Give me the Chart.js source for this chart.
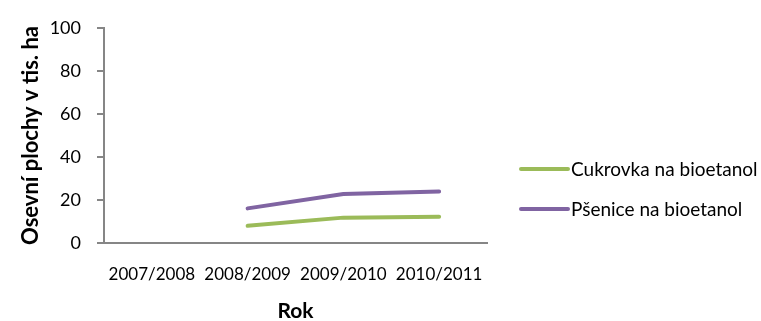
<!DOCTYPE html>
<html>
<head>
<meta charset="utf-8">
<script src="https://cdn.jsdelivr.net/npm/chart.js@4/dist/chart.umd.min.js"></script>
<style>
  html, body { margin: 0; padding: 0; background: #fff; }
  #wrap { width: 761px; height: 321px; }
</style>
</head>
<body>
<div id="wrap"><canvas id="c" width="761" height="321"></canvas></div>
<script>
// Sown area for bioethanol crops, thousand hectares
const seasons = ['2007/2008', '2008/2009', '2009/2010', '2010/2011'];
const cukrovka = [null, 8.0, 11.8, 12.2];
const psenice = [null, 16.1, 22.8, 23.9];
const yTicks = [0, 20, 40, 60, 80, 100];

const FONT = 'Lato, "Open Sans", sans-serif';
const AXIS_GREY = '#868686';

// Legend drawn to the right of the plot: short line sample followed by the label
const sideLegend = {
  id: 'sideLegend',
  afterDraw(chart) {
    const ctx = chart.ctx;
    const x0 = 521, lineLen = 47, startY = 169, step = 40;
    ctx.save();
    ctx.font = '19px ' + FONT;
    ctx.textBaseline = 'middle';
    ctx.fillStyle = '#000';
    chart.data.datasets.forEach((ds, i) => {
      const y = startY + i * step;
      ctx.strokeStyle = ds.borderColor;
      ctx.lineWidth = 4;
      ctx.lineCap = 'round';
      ctx.beginPath();
      ctx.moveTo(x0, y);
      ctx.lineTo(x0 + lineLen, y);
      ctx.stroke();
      ctx.fillText(ds.label, x0 + lineLen + 3, y + 1);
    });
    ctx.restore();
  }
};

new Chart(document.getElementById('c'), {
  type: 'line',
  data: {
    labels: seasons,
    datasets: [
      { label: 'Cukrovka na bioetanol', data: cukrovka, borderColor: '#9BBB59', backgroundColor: '#9BBB59' },
      { label: 'Pšenice na bioetanol', data: psenice, borderColor: '#8064A2', backgroundColor: '#8064A2' }
    ]
  },
  options: {
    responsive: false,
    animation: false,
    devicePixelRatio: 1,
    layout: { padding: { left: 0, top: 28, right: 274, bottom: 0 } },
    elements: {
      line: { borderWidth: 4, tension: 0, borderCapStyle: 'round', borderJoinStyle: 'round' },
      point: { radius: 0, hoverRadius: 0 }
    },
    plugins: {
      legend: { display: false },
      tooltip: { enabled: false }
    },
    scales: {
      x: {
        offset: true,
        grid: { display: false, drawTicks: false },
        border: { display: true, color: AXIS_GREY, width: 2 },
        ticks: { color: '#000', font: { family: FONT, size: 17 }, padding: 21, maxRotation: 0 },
        title: { display: true, text: 'Rok', color: '#000', font: { family: FONT, size: 21, weight: 'bold' }, padding: { top: 4, bottom: -3 } },
        afterFit(scale) { scale.height = 78; }
      },
      y: {
        min: 0,
        max: 100,
        afterBuildTicks(scale) { scale.ticks = yTicks.map(v => ({ value: v })); },
        grid: { drawOnChartArea: false, drawTicks: true, tickLength: 7, color: AXIS_GREY, lineWidth: 2 },
        border: { display: true, color: AXIS_GREY, width: 2 },
        ticks: { color: '#000', font: { family: FONT, size: 18 }, padding: 16 },
        title: { display: true, text: 'Osevní plochy v tis. ha', color: '#000', font: { family: FONT, size: 22, weight: 'bold' }, padding: { top: 18, bottom: 0 } },
        afterFit(scale) { scale.width = 104; }
      }
    }
  },
  plugins: [sideLegend]
});
</script>
</body>
</html>
